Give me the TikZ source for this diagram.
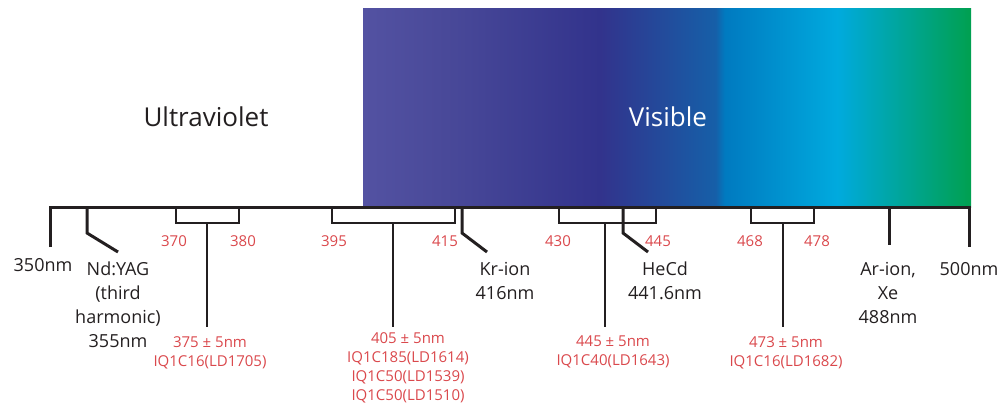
\documentclass[tikz,border=0pt]{standalone}
\usepackage{fontspec}
\setmainfont{Open Sans}
\usetikzlibrary{positioning}

\definecolor{axisgray}{RGB}{35,31,32}
\definecolor{labred}{RGB}{218,72,76}
\definecolor{spA}{RGB}{83,82,162}
\definecolor{spB}{RGB}{72,72,152}
\definecolor{spC}{RGB}{50,51,140}
\definecolor{spD}{RGB}{22,95,168}
\definecolor{spE}{RGB}{0,122,192}
\definecolor{spF}{RGB}{0,170,222}
\definecolor{spG}{RGB}{0,160,80}
\pgfdeclarehorizontalshading{spectrum}{100bp}{color(0bp)=(spA); color(25bp)=(spA); color(32.5bp)=(spB); color(44.5bp)=(spC); color(54bp)=(spD); color(54.75bp)=(spE); color(64bp)=(spF); color(75bp)=(spG); color(100bp)=(spG)}

\begin{document}
\begin{tikzpicture}[x=1pt,y=-1pt,
  ax/.style={draw=axisgray,line width=3pt},
  br/.style={draw=axisgray,line width=2.6pt},
  lbl/.style={font=\fontsize{18}{24}\selectfont,text=axisgray,align=center,inner sep=0pt,anchor=north},
  nm/.style={font=\fontsize{15}{19}\selectfont,text=labred,align=center,inner sep=0pt},
  big/.style={font=\fontsize{26}{30}\selectfont,inner sep=0pt}
]
  \useasboundingbox (0,0) rectangle (1008,402);

  % spectrum band
  \shade[shading=spectrum] (363,8) rectangle (971,207);
  \node[big,text=axisgray](uv) at (206,117){Ultraviolet};
  \node[big,text=white](vis) at (668,117){Visible};

  % axis and ticks
  \coordinate (t350) at (50,247);
  \coordinate (a1) at (971,207);
  \draw[ax] (t350) |- (a1);
  \draw[ax] (889,207) -- (889,245) coordinate (tar);
  \draw[ax] (969,207) -- (969,247) coordinate (t500);
  \foreach \n/\x/\xx in {yag/87/118, kr/462/487, hecd/623/648}{
    \draw[ax] (\x,207) -- (\x,233) -- (\xx,252) coordinate (e\n);
  }

  % brackets
  \foreach \n/\l/\r/\m in {a/176/239/207, b/332/455/393, c/559/656/605, d/751/814/783}{
    \draw[br] (\l,207) |- (\r,223) -- (\r,207);
    \draw[br] (\m,223) -- (\m,327) coordinate (s\n);
  }
  \foreach \v/\x in {370/174, 380/243, 395/334, 415/445, 430/558, 445/658, 468/750, 478/817}{
    \node[nm,anchor=base](n\v) at (\x,246){\v};
  }

  % laser lines
  \node[lbl](l350) at (43,258){350nm};
  \node[lbl](lyag) at (118,262){Nd:YAG\\(third\\harmonic)\\355nm};
  \node[lbl](lkr) at (505,262){Kr-ion\\416nm};
  \node[lbl](lhecd) at (665,262){HeCd\\441.6nm};
  \node[lbl](lar) at (888,262){Ar-ion,\\Xe\\488nm};
  \node[lbl](l500) at (969,262){500nm};

  % diodes
  \node[nm,below=9pt of sa,xshift=3pt](da){375 ± 5nm\\IQ1C16(LD1705)};
  \node[nm,below=5pt of sb,xshift=15pt](db){405 ± 5nm\\IQ1C185(LD1614)\\IQ1C50(LD1539)\\IQ1C50(LD1510)};
  \node[nm,below=9pt of sc,xshift=8pt](dc){445 ± 5nm\\IQ1C40(LD1643)};
  \node[nm,below=9pt of sd,xshift=3pt](dd){473 ± 5nm\\IQ1C16(LD1682)};
\end{tikzpicture}
\end{document}
